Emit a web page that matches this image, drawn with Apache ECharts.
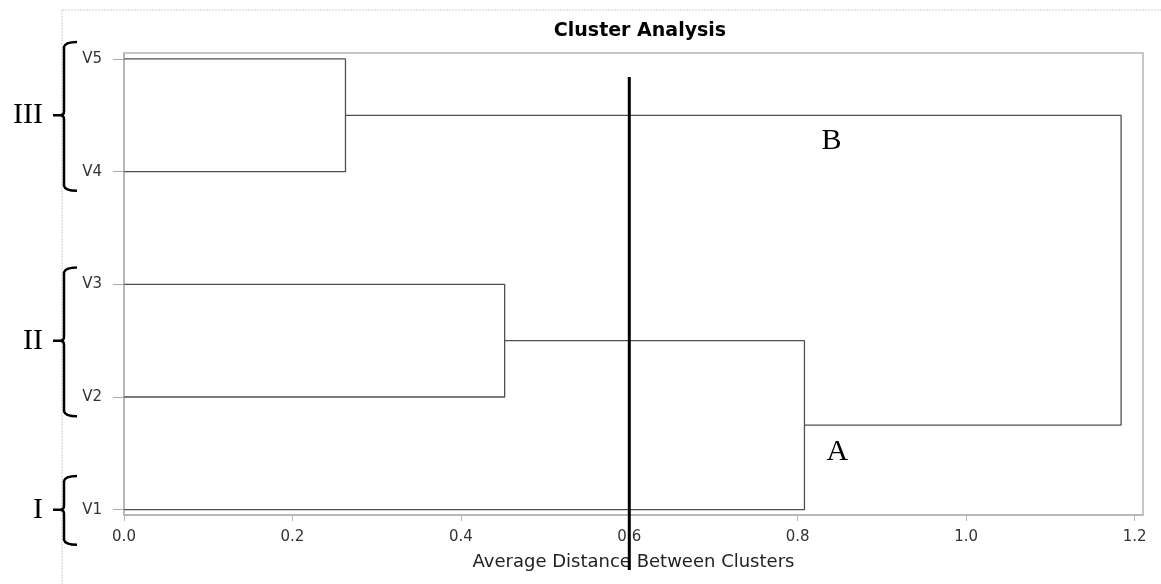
<!DOCTYPE html>
<html><head><meta charset="utf-8">
<script src="https://cdn.jsdelivr.net/npm/echarts@6/dist/echarts.min.js"></script>
<style>html,body{margin:0;padding:0;background:#fff}#c{width:1161px;height:584px}</style>
</head><body><div id="c"></div>
<script>
// ---- data ----
const leafNames = ['V1', 'V2', 'V3', 'V4', 'V5'];
const mergeNames = ['C1', 'C2', 'C3', 'C4'];
const mergeChildren = [['V4', 'V5'], ['V2', 'V3'], ['V1', 'C2'], ['C3', 'C1']];
const mergeDistances = [0.263, 0.452, 0.808, 1.184];
const cutDistance = 0.6;
const cutSpan = [0.464, 4.84];
const xTicks = [0, 0.2, 0.4, 0.6, 0.8, 1.0, 1.2];
const yTicks = [1, 2, 3, 4, 5];
const groupLabels = ['I', 'II', 'III'];
const groupSpans = [[0.69, 1.30], [1.83, 3.15], [3.83, 5.15]];
const groupCenters = [1, 2.5, 4.5];
const branchLabels = ['A', 'B'];
const branchLabelX = [0.847, 0.840];
const branchLabelY = [1.51, 4.27];

// ---- build node positions ----
const nodes = {};
leafNames.forEach((n, i) => { nodes[n] = [0, yTicks[i]]; });
const linkSeries = [];
mergeNames.forEach((m, i) => {
  const a = nodes[mergeChildren[i][0]], b = nodes[mergeChildren[i][1]];
  const d = mergeDistances[i];
  nodes[m] = [d, (a[1] + b[1]) / 2];
  linkSeries.push({
    type: 'line', data: [[a[0], a[1]], [d, a[1]], [d, b[1]], [b[0], b[1]]],
    symbol: 'none', silent: true, animation: false,
    lineStyle: { color: '#505050', width: 1.3 }, z: 3
  });
});

const chart = echarts.init(document.getElementById('c'), null, { renderer: 'canvas' });
const option = {
  animation: false,
  backgroundColor: '#ffffff',
  title: {
    text: 'Cluster Analysis', left: 635, top: 17, textAlign: 'center',
    textStyle: { fontFamily: 'DejaVu Sans', fontWeight: 'bold', fontSize: 19, color: '#000' }
  },
  grid: {
    left: 124, right: 18, top: 53, bottom: 69, show: true,
    borderColor: '#b4b4b4', borderWidth: 1.5, backgroundColor: 'transparent',
    outerBoundsMode: 'none'
  },
  xAxis: {
    type: 'value', min: 0, max: 1.21,
    name: 'Average Distance Between Clusters', nameLocation: 'middle', nameGap: 38,
    nameTextStyle: { fontFamily: 'DejaVu Sans', fontSize: 18, color: '#222' },
    axisLine: { show: true, lineStyle: { color: '#b4b4b4', width: 1.5 } },
    axisTick: { show: true, length: 6, customValues: xTicks, lineStyle: { color: '#b4b4b4' } },
    axisLabel: { customValues: xTicks, margin: 15, formatter: v => v.toFixed(1),
      fontFamily: 'DejaVu Sans', fontSize: 15, color: '#333' },
    splitLine: { show: false }
  },
  yAxis: {
    type: 'value', min: 0.953, max: 5.053,
    axisLine: { show: true, lineStyle: { color: '#b4b4b4', width: 1.5 } },
    axisTick: { show: true, length: 11, customValues: yTicks, lineStyle: { color: '#aaa' } },
    axisLabel: { customValues: yTicks, margin: 22, formatter: v => leafNames[Math.round(v) - 1],
      fontFamily: 'DejaVu Sans', fontSize: 15, color: '#333' },
    splitLine: { show: false }
  },
  graphic: [
    { type: 'line', shape: { x1: 62, y1: 10, x2: 1161, y2: 10 }, style: { stroke: '#cfcfcf', lineWidth: 1, lineDash: [2, 1] } },
    { type: 'line', shape: { x1: 62, y1: 10, x2: 62, y2: 584 }, style: { stroke: '#cfcfcf', lineWidth: 1, lineDash: [2, 1] } }
  ],
  series: [
    ...linkSeries,
    {
      type: 'line', data: [[cutDistance, cutSpan[1]], [cutDistance, cutSpan[0]]],
      symbol: 'none', clip: false, silent: true, z: 5,
      lineStyle: { color: '#000', width: 3 }
    },
    {
      type: 'custom', clip: false, silent: true, z: 6,
      data: branchLabels.map((t, i) => [branchLabelX[i], branchLabelY[i], i]),
      renderItem: (params, api) => {
        const p = api.coord([api.value(0), api.value(1)]);
        return { type: 'text', x: p[0], y: p[1],
          style: { text: branchLabels[api.value(2)], fill: '#000', font: '30px "Liberation Serif"', align: 'center', verticalAlign: 'middle' } };
      }
    },
    {
      type: 'custom', clip: false, silent: true, z: 6,
      data: groupLabels.map((t, i) => [groupSpans[i][0], groupSpans[i][1], groupCenters[i], i]),
      renderItem: (params, api) => {
        const x0 = api.coord([0, 1])[0];
        const b = api.coord([0, api.value(0)])[1];
        const t = api.coord([0, api.value(1)])[1];
        const m = api.coord([0, api.value(2)])[1];
        const vx = x0 - 60;
        const path = 'M' + (vx + 13) + ' ' + t + ' Q' + (vx + 1) + ' ' + t + ' ' + vx + ' ' + (t + 5) +
          ' L' + vx + ' ' + (m - 4) + ' Q' + vx + ' ' + m + ' ' + (vx - 4) + ' ' + m +
          ' Q' + vx + ' ' + m + ' ' + vx + ' ' + (m + 4) +
          ' L' + vx + ' ' + (b - 5) + ' Q' + (vx + 1) + ' ' + b + ' ' + (vx + 13) + ' ' + b +
          ' M' + (vx - 4) + ' ' + m + ' L' + (vx - 11) + ' ' + m;
        return { type: 'group', children: [
          { type: 'path', shape: { pathData: path }, style: { stroke: '#000', lineWidth: 2.5, fill: null } },
          { type: 'text', x: x0 - 81, y: m,
            style: { text: groupLabels[api.value(3)], fill: '#000', font: '30px "Liberation Serif"', align: 'right', verticalAlign: 'middle' } }
        ] };
      }
    }
  ]
};
chart.setOption(option);
</script></body></html>
